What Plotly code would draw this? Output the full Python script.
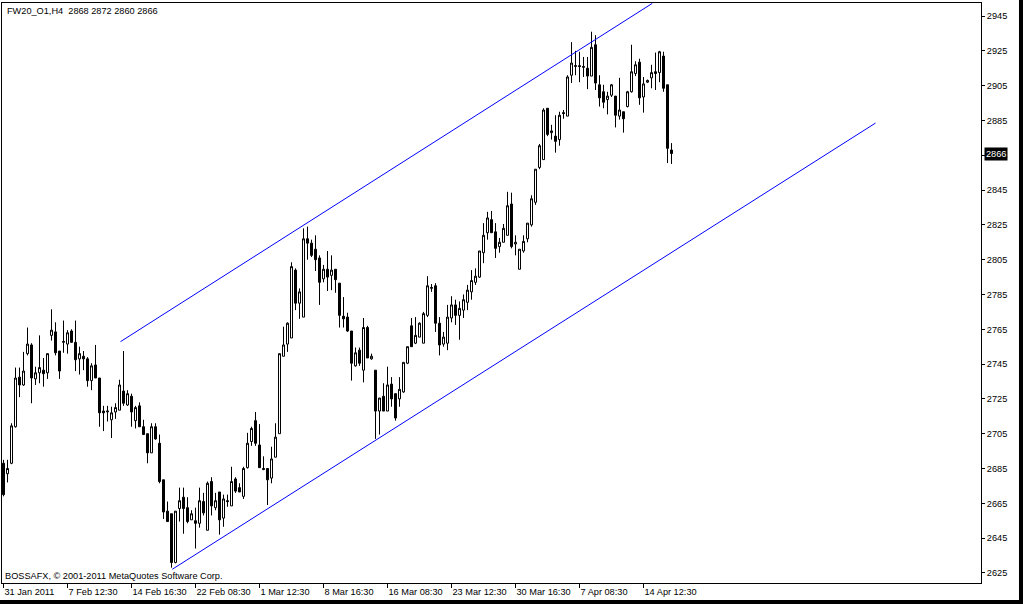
import plotly.graph_objects as go

# ---- data (H4 bars) ----
bar_index = list(range(168))

opens = [2688, 2682, 2688, 2709, 2737.5, 2733, 2751, 2756, 2736.5, 2740,
         2741.5, 2740, 2761.5, 2763.5, 2752.5, 2757.5, 2756.5, 2764, 2757.5, 2748,
         2749.5, 2748, 2735.5, 2744.5, 2737, 2718, 2717.5, 2713, 2717.5, 2718.5,
         2729.5, 2721.5, 2726.5, 2712.5, 2721, 2709, 2705, 2694, 2709, 2699.5,
         2678.5, 2660.5, 2659, 2631, 2662, 2668.5, 2662.5, 2655.5, 2655, 2653.5,
         2666, 2649.5, 2677.5, 2662.5, 2671.5, 2656.5, 2666.5, 2663.5, 2679, 2674,
         2669, 2685.5, 2700.5, 2712.5, 2698.5, 2685, 2685, 2679.5, 2691.5, 2705,
         2749.5, 2756.5, 2760, 2799, 2780, 2772, 2817, 2814.5, 2811, 2806,
         2794, 2799.5, 2796, 2799.5, 2791.5, 2772.5, 2772, 2764, 2744, 2753,
         2741.5, 2766, 2748, 2741.5, 2718, 2726.5, 2718, 2733.5, 2728, 2725,
         2729, 2745.5, 2767, 2757, 2760.5, 2757, 2773, 2788.5, 2790, 2768.5,
         2756.5, 2757, 2771.5, 2779, 2773, 2776, 2780.5, 2786.5, 2792, 2795,
         2809, 2820.5, 2828, 2821, 2812.5, 2815, 2819, 2837, 2814, 2799.5,
         2810, 2817, 2825, 2838, 2858, 2862.5, 2892, 2878, 2876, 2874,
         2889.5, 2887.5, 2911, 2916, 2916.5, 2915.5, 2915, 2910.5, 2928.5, 2905.5,
         2901.5, 2897, 2899.5, 2899, 2887.5, 2890, 2893, 2901.5, 2912, 2918.5,
         2898.5, 2907, 2909.5, 2913, 2912.5, 2922, 2905.5, 2868]

highs = [2690, 2690, 2711, 2743, 2743, 2752, 2766, 2757, 2743.5, 2761.5,
         2748.5, 2751, 2776.5, 2769, 2752.5, 2770, 2764.5, 2765, 2770, 2755,
         2752.5, 2749, 2745.5, 2756, 2737, 2721, 2721, 2720.5, 2722.5, 2736,
         2752.5, 2730, 2728, 2721, 2723, 2713, 2705, 2711, 2711, 2704.5,
         2678.5, 2666, 2659, 2660.5, 2674, 2674, 2668.5, 2661, 2662.5, 2674,
         2671, 2677.5, 2680, 2671, 2671.5, 2670, 2670, 2686, 2680, 2676.5,
         2686, 2705.5, 2709, 2717.5, 2710.5, 2692, 2685, 2697.5, 2711, 2751,
         2766.5, 2769, 2803.5, 2800, 2788.5, 2823, 2824, 2816.5, 2819, 2807.5,
         2802, 2810, 2807.5, 2799.5, 2791.5, 2783.5, 2774.5, 2764, 2754.5, 2754.5,
         2771.5, 2767, 2751, 2741.5, 2725.5, 2734, 2743.5, 2737.5, 2728, 2737.5,
         2746, 2755, 2771.5, 2772, 2769, 2775, 2795.5, 2791, 2791.5, 2772,
         2763.5, 2779, 2784, 2782, 2781, 2785, 2790.5, 2799, 2800, 2810,
         2826, 2832.5, 2833, 2826, 2817.5, 2825.5, 2844, 2843.5, 2819, 2811,
         2819, 2826, 2842, 2857, 2871.5, 2892, 2892, 2882.5, 2888, 2890,
         2891, 2911, 2930, 2925, 2924.5, 2921.5, 2921.5, 2936, 2934, 2911,
         2905.5, 2901.5, 2906, 2899, 2909.5, 2890, 2902, 2928.5, 2919, 2920.5,
         2910, 2908.5, 2917, 2924, 2925, 2924.5, 2905.5, 2872]

lows = [2669, 2677, 2687.5, 2708.5, 2726, 2732.5, 2750, 2722.5, 2733, 2734,
        2732, 2736.5, 2758.5, 2750, 2736.5, 2751.5, 2751, 2757.5, 2741, 2739,
        2741.5, 2732, 2730, 2737, 2709, 2706.5, 2712, 2702.5, 2713.5, 2718.5,
        2721, 2721, 2709, 2708, 2709, 2704.5, 2688, 2694, 2701.5, 2676.5,
        2656, 2654.5, 2628, 2630.5, 2654.5, 2647.5, 2653.5, 2655.5, 2639, 2651,
        2658, 2649.5, 2658, 2661, 2647, 2651.5, 2663, 2663.5, 2671, 2671.5,
        2667.5, 2685, 2698, 2698, 2685.5, 2684, 2664, 2676.5, 2691.5, 2705,
        2749.5, 2752, 2760, 2776, 2771, 2772, 2805, 2806.5, 2798.5, 2779,
        2792, 2787, 2787.5, 2786, 2766, 2766, 2763.5, 2735.5, 2743.5, 2744,
        2734.5, 2748.5, 2747.5, 2702, 2704.5, 2718, 2718, 2720.5, 2712.5, 2720.5,
        2728.5, 2745, 2755, 2756.5, 2760.5, 2757, 2772, 2786.5, 2763.5, 2750,
        2755, 2753, 2769, 2767.5, 2759, 2771.5, 2776, 2782, 2790.5, 2794.5,
        2803, 2816.5, 2820.5, 2806, 2809, 2815, 2819, 2811.5, 2807.5, 2799.5,
        2809, 2815, 2824, 2836.5, 2857, 2862.5, 2876, 2874, 2866.5, 2870.5,
        2886, 2887.5, 2906.5, 2911, 2907, 2910, 2903, 2910.5, 2902.5, 2893,
        2892, 2888.5, 2898.5, 2881, 2885.5, 2878, 2892.5, 2901, 2910.5, 2894,
        2889.5, 2906.5, 2903.5, 2902.5, 2907, 2901.5, 2860.5, 2860]

closes = [2670, 2685, 2709.5, 2737, 2733, 2741, 2756.5, 2737, 2740, 2743,
          2739.5, 2751, 2764.5, 2751.5, 2741, 2758, 2763, 2757.5, 2747.5, 2751,
          2748, 2735.5, 2744, 2737, 2717, 2717, 2718, 2717, 2720, 2733,
          2722.5, 2728, 2717.5, 2720, 2709, 2704.5, 2694, 2709, 2702, 2677.5,
          2660, 2654.5, 2631, 2660.5, 2666.5, 2662, 2654.5, 2659, 2653.5, 2666.5,
          2659.5, 2676.5, 2663.5, 2666.5, 2655.5, 2667.5, 2666, 2677.5, 2672, 2671.5,
          2685, 2699.5, 2708, 2699.5, 2685.5, 2684.5, 2678.5, 2690.5, 2703, 2751,
          2756, 2768.5, 2801, 2780, 2786.5, 2817, 2814.5, 2807.5, 2805, 2792,
          2799.5, 2795, 2799, 2793.5, 2773, 2771, 2764, 2745.5, 2751.5, 2745.5,
          2766, 2748.5, 2749.5, 2718, 2725.5, 2718, 2733, 2725, 2714, 2730.5,
          2746, 2755, 2755, 2761.5, 2768.5, 2774, 2790, 2789, 2768.5, 2756,
          2760.5, 2772, 2779, 2773, 2777, 2782, 2787.5, 2793, 2795.5, 2810,
          2819, 2829, 2820.5, 2811.5, 2815, 2823, 2836, 2812.5, 2815, 2811,
          2815.5, 2826, 2840, 2857, 2870.5, 2891, 2877, 2879, 2873, 2888,
          2889, 2910, 2918, 2916.5, 2916, 2916, 2910.5, 2927, 2906.5, 2898,
          2895.5, 2899, 2905.5, 2888, 2891, 2886, 2901.5, 2913, 2917, 2898,
          2906, 2908, 2912.5, 2912, 2924.5, 2903.5, 2869, 2866]

tick_bars = [0, 16, 32, 48, 64, 80, 96, 112, 128, 144, 160]
tick_labels = ["31 Jan 2011", "7 Feb 12:30", "14 Feb 16:30", "22 Feb 08:30",
               "1 Mar 12:30", "8 Mar 16:30", "16 Mar 08:30", "23 Mar 12:30",
               "30 Mar 16:30", "7 Apr 08:30", "14 Apr 12:30"]
price_ticks = list(range(2625, 2946, 20))

upper_x = [29.25, 162.2]
upper_y = [2757.9, 2952.3]
lower_x = [42.2, 218.0]
lower_y = [2627.1, 2883.5]

last_price = 2866
title_text = "FW20_O1,H4  2868 2872 2860 2866"
footer_text = "BOSSAFX, \u00a9 2001-2011 MetaQuotes Software Corp."

FONT = "Liberation Sans, Arial, sans-serif"
FS = 9.2

fig = go.Figure()
fig.add_trace(go.Candlestick(
    x=bar_index, open=opens, high=highs, low=lows, close=closes,
    increasing=dict(line=dict(color="black", width=1), fillcolor="white"),
    decreasing=dict(line=dict(color="black", width=1), fillcolor="black"),
    whiskerwidth=0, hoverinfo="skip", showlegend=False))

for xs, ys in ((upper_x, upper_y), (lower_x, lower_y)):
    fig.add_trace(go.Scatter(x=xs, y=ys, mode="lines",
                             line=dict(color="#0000FF", width=1),
                             hoverinfo="skip", showlegend=False))

fig.update_layout(
    width=1023, height=604,
    margin=dict(l=2, r=42, t=3, b=21),
    paper_bgcolor="white", plot_bgcolor="white",
    boxgap=0.5, boxgroupgap=0,
    font=dict(family=FONT, size=FS, color="black"),
    xaxis=dict(range=[-0.375, 244.375], rangeslider=dict(visible=False),
               automargin=False,
               showgrid=False, zeroline=False,
               showline=True, mirror=True, linecolor="black", linewidth=1,
               ticks="outside", ticklen=4, tickcolor="black",
               tickvals=tick_bars, ticktext=tick_labels, tickangle=0,
               ticklabelposition="outside right",
               tickfont=dict(family=FONT, size=FS, color="black")),
    yaxis=dict(range=[2619.2, 2952.5], side="right",
               automargin=False,
               showgrid=False, zeroline=False,
               showline=True, mirror=True, linecolor="black", linewidth=1,
               ticks="outside", ticklen=3, tickcolor="black",
               tickvals=price_ticks,
               tickfont=dict(family=FONT, size=FS, color="black")),
    showlegend=False,
)

fig.add_annotation(x=0, y=1, xref="paper", yref="paper", xanchor="left", yanchor="top",
                   xshift=3, yshift=-1, text=title_text, showarrow=False,
                   font=dict(family=FONT, size=FS, color="black"))
fig.add_annotation(x=0, y=0, xref="paper", yref="paper", xanchor="left", yanchor="bottom",
                   xshift=1, yshift=0, text=footer_text, showarrow=False,
                   font=dict(family=FONT, size=FS, color="black"))
fig.add_annotation(x=1, y=last_price, xref="paper", yref="y", xanchor="left", yanchor="middle",
                   xshift=3, text=str(last_price), showarrow=False, bgcolor="black",
                   borderpad=1, font=dict(family=FONT, size=FS, color="white"))

# dark window frame on the right and bottom edges
fig.add_shape(type="rect", xref="paper", yref="paper", x0=1.0388, x1=1.06, y0=-0.05, y1=1.01,
              fillcolor="black", line=dict(width=0), layer="above")
fig.add_shape(type="rect", xref="paper", yref="paper", x0=-0.01, x1=1.06, y0=-0.05, y1=-0.0293,
              fillcolor="black", line=dict(width=0), layer="above")

fig.write_html("out.html", config={"displayModeBar": False},
               post_script="document.body.style.margin='0px';document.body.style.overflow='hidden';")
